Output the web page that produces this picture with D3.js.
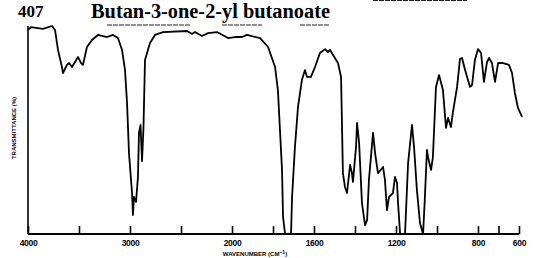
<!DOCTYPE html>
<html>
<head>
<title>Butan-3-one-2-yl butanoate</title>
<script src="https://cdn.jsdelivr.net/npm/d3@7"></script>
<style>
  body { margin: 0; background: #fff; }
  svg { display: block; }
</style>
</head>
<body>
<script>
const width = 540, height = 258;

// spectrum: wavenumber (cm-1) and transmittance (%)
const wavenumber = [4000, 3971, 3853, 3765, 3735, 3706, 3667, 3657, 3618, 3598, 3569, 3539, 3510, 3480, 3461,
  3422, 3373, 3314, 3225, 3167, 3118, 3078, 3049, 3029, 3010, 2980, 2971, 2961, 2941, 2922, 2912, 2897,
  2882, 2868, 2853, 2804, 2755, 2676, 2441, 2392, 2363, 2294, 2235, 2147, 2039, 1985, 1951, 1927, 1863,
  1824, 1790, 1776, 1766, 1756, 1751, 1741, 1712, 1707, 1693, 1678, 1659, 1644, 1634, 1615, 1595, 1571,
  1546, 1532, 1522, 1507, 1483, 1468, 1463, 1459, 1449, 1439, 1424, 1415, 1410, 1395, 1390, 1380, 1366,
  1351, 1341, 1332, 1312, 1302, 1288, 1263, 1254, 1244, 1234, 1215, 1205, 1195, 1190, 1180, 1156, 1141,
  1122, 1112, 1098, 1083, 1068, 1059, 1049, 1044, 1029, 1020, 1005, 990, 971, 956, 946, 932, 922, 902,
  888, 878, 863, 839, 829, 815, 800, 785, 771, 756, 746, 732, 717, 702, 678, 649, 634, 620, 605, 585];
const transmittance = [98.1, 99.5, 98.6, 100, 98.1, 88.5, 80.3, 77.4, 81.3, 82.2, 80.3, 82.7, 85.1, 82.2, 81.3,
  89.9, 93.3, 95.7, 94.7, 95.7, 94.2, 88.5, 78.8, 63.0, 38.9, 19.7, 9.1, 17.8, 15.4, 27.4, 48.6, 52.4,
  35.1, 51.0, 83.7, 91.8, 95.7, 97.1, 97.6, 96.2, 97.1, 95.2, 96.6, 97.1, 94.2, 94.7, 94.7, 95.7, 94.2,
  89.9, 80.3, 69.2, 50.0, 30.8, 8.2, 0, 0, 17.8, 41.8, 61.1, 74.0, 78.8, 75.5, 75.5, 80.3, 87.0,
  88.9, 87.5, 88.5, 86.1, 82.2, 75.5, 50.0, 29.3, 22.6, 19.7, 33.2, 29.3, 25.0, 41.8, 53.4, 43.8, 14.9,
  4.3, 6.7, 26.0, 48.6, 38.9, 29.3, 32.2, 26.0, 11.5, 17.8, 19.7, 27.4, 24.5, 14.9, 0, 0, 34.1,
  52.4, 41.8, 21.2, 5.3, 0, 17.8, 40.4, 37.0, 30.8, 37.0, 70.7, 76.4, 69.2, 51.0, 55.8, 51.4, 58.7, 70.7,
  84.1, 84.6, 78.8, 70.7, 71.6, 83.7, 88.9, 87.0, 73.1, 82.7, 84.6, 82.2, 73.1, 82.2, 82.2, 81.3, 77.4, 67.8, 60.6, 56.3];

const tickValues = [4000, 3500, 3000, 2500, 2000, 1800, 1600, 1400, 1200, 1000, 800, 700, 600];
const tickLabels = ["4000", "", "3000", "", "2000", "", "1600", "", "1200", "", "800", "", "600"];

const data = wavenumber.map((w, i) => [w, transmittance[i]]);

const svg = d3.select("body").append("svg")
    .attr("width", width)
    .attr("height", height)
    .attr("viewBox", [0, 0, width, height]);

// scale changes at 2000 cm-1, like the printed chart paper
const x = d3.scaleLinear()
    .domain([4000, 2000, 600])
    .range([28, 232, 519]);

const y = d3.scaleLinear()
    .domain([0, 100])
    .range([234, 26]);

// title
svg.append("text")
    .attr("x", 18).attr("y", 17)
    .attr("font-family", "Liberation Serif, serif")
    .attr("font-weight", "bold")
    .attr("font-size", 17)
    .text("407");

svg.append("text")
    .attr("x", 91).attr("y", 18)
    .attr("font-family", "Liberation Serif, serif")
    .attr("font-weight", "bold")
    .attr("font-size", 20)
    .attr("textLength", 239)
    .attr("lengthAdjust", "spacingAndGlyphs")
    .text("Butan-3-one-2-yl butanoate");

// faint scan lines under the title
svg.append("g")
    .attr("stroke", "#222")
    .attr("stroke-width", 1)
    .attr("stroke-dasharray", "5,1")
    .selectAll("line")
    .data([[107, 190, 25], [222, 262, 25], [300, 330, 25], [373, 467, 0.5]])
    .join("line")
    .attr("x1", d => d[0]).attr("x2", d => d[1])
    .attr("y1", d => d[2]).attr("y2", d => d[2]);

// frame
svg.append("line")
    .attr("x1", x(4000)).attr("x2", x(4000))
    .attr("y1", y(100)).attr("y2", y(0))
    .attr("stroke", "#000").attr("stroke-width", 1.6);

svg.append("line")
    .attr("x1", x(4000)).attr("x2", x(600))
    .attr("y1", y(0)).attr("y2", y(0))
    .attr("stroke", "#000").attr("stroke-width", 2);

const gx = svg.append("g")
    .attr("transform", `translate(0,${y(0)})`)
    .call(d3.axisBottom(x)
        .tickValues(tickValues)
        .tickSize(-8)
        .tickFormat((d, i) => tickLabels[i]));

gx.select(".domain").remove();
gx.selectAll(".tick line").attr("stroke", "#000").attr("stroke-width", 1.6);
gx.selectAll(".tick text")
    .attr("y", 12).attr("dy", 0)
    .attr("fill", "#000")
    .attr("font-family", "Liberation Sans, Arial, sans-serif")
    .attr("font-weight", "bold")
    .attr("font-size", 8.5)
    .attr("letter-spacing", -0.3);

// axis titles
svg.append("text")
    .attr("x", 255).attr("y", 256)
    .attr("text-anchor", "middle")
    .attr("font-family", "Liberation Sans, Arial, sans-serif")
    .attr("font-weight", "bold")
    .attr("font-size", 6)
    .text("WAVENUMBER (CM")
    .append("tspan").attr("dy", -2.5).attr("font-size", 5).text("−1")
    .select(function () { return this.parentNode; })
    .append("tspan").attr("dy", 2.5).text(")");

svg.append("text")
    .attr("transform", "translate(16,128) rotate(-90)")
    .attr("text-anchor", "middle")
    .attr("font-family", "Liberation Sans, Arial, sans-serif")
    .attr("font-weight", "bold")
    .attr("font-size", 6)
    .text("TRANSMITTANCE (%)");

// spectrum
const line = d3.line()
    .x(d => x(d[0]))
    .y(d => y(d[1]));

svg.append("path")
    .datum(data)
    .attr("fill", "none")
    .attr("stroke", "#000")
    .attr("stroke-width", 1.8)
    .attr("stroke-linejoin", "round")
    .attr("d", line);
</script>
</body>
</html>
